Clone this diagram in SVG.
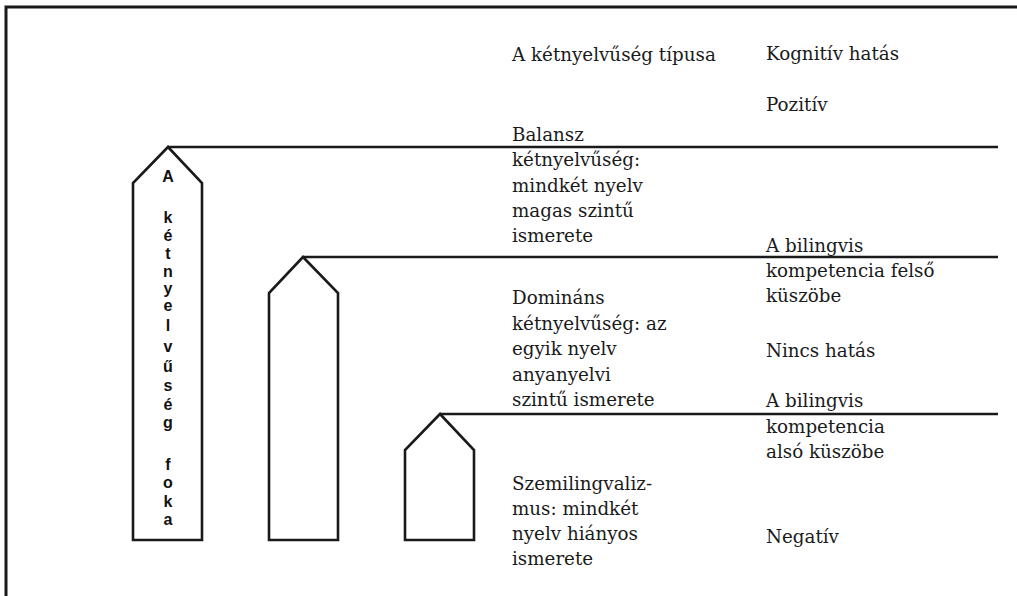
<svg xmlns="http://www.w3.org/2000/svg" width="1017" height="596" viewBox="0 0 1017 596">
<style>
.t{font-family:'DejaVu Serif','Liberation Serif',serif;font-size:18.3px;fill:#1a1a1a}
.v{font-family:'Liberation Sans',Arial,sans-serif;font-size:16px;font-weight:bold;fill:#111;text-anchor:middle}
.s{fill:#fff;stroke:#1a1a1a;stroke-width:2.6;stroke-linejoin:miter}
.l{stroke:#1a1a1a;stroke-width:2.4;fill:none}
</style>
<rect width="1017" height="596" fill="#fff"/>
<g id="frame"><path class="l" style="stroke-width:3" d="M6,596 V7 H1017"/></g>
<g id="pillar1">
<polygon class="s" points="168,147 202,183 202,540 133,540 133,183"/>
<text class="v" x="168" y="182">A</text>
<text class="v" x="168" y="223">k</text>
<text class="v" x="168" y="241">é</text>
<text class="v" x="168" y="259">t</text>
<text class="v" x="168" y="277">n</text>
<text class="v" x="168" y="294">y</text>
<text class="v" x="168" y="311">e</text>
<text class="v" x="168" y="331">l</text>
<text class="v" x="168" y="352">v</text>
<text class="v" x="168" y="372">ű</text>
<text class="v" x="168" y="391">s</text>
<text class="v" x="168" y="410">é</text>
<text class="v" x="168" y="428">g</text>
<text class="v" x="168" y="470">f</text>
<text class="v" x="168" y="488">o</text>
<text class="v" x="168" y="507">k</text>
<text class="v" x="168" y="525">a</text>
</g>
<g id="pillar2"><polygon class="s" points="303,257 338,293 338,540 269,540 269,293"/></g>
<g id="pillar3"><polygon class="s" points="440,414 474,450 474,540 405,540 405,450"/></g>
<g id="connectors">
<line class="l" x1="168" y1="147" x2="998" y2="147"/>
<line class="l" x1="303" y1="257" x2="998" y2="257"/>
<line class="l" x1="440" y1="414" x2="998" y2="414"/>
</g>
<g id="header-type"><text class="t" x="512" y="61">A kétnyelvűség típusa</text></g>
<g id="header-effect"><text class="t" x="766" y="60">Kognitív hatás</text></g>
<g id="effect-positive"><text class="t" x="766" y="111">Pozitív</text></g>
<g id="type-balanced"><text class="t" x="512" y="141">Balansz<tspan x="512" y="166">kétnyelvűség:</tspan><tspan x="512" y="192">mindkét nyelv</tspan><tspan x="512" y="217">magas szintű</tspan><tspan x="512" y="242">ismerete</tspan></text></g>
<g id="upper-threshold"><text class="t" x="766" y="252">A bilingvis<tspan x="766" y="277">kompetencia felső</tspan><tspan x="766" y="302">küszöbe</tspan></text></g>
<g id="type-dominant"><text class="t" x="512" y="304">Domináns<tspan x="512" y="330">kétnyelvűség: az</tspan><tspan x="512" y="355">egyik nyelv</tspan><tspan x="512" y="381">anyanyelvi</tspan><tspan x="512" y="406">szintű ismerete</tspan></text></g>
<g id="effect-none"><text class="t" x="766" y="357">Nincs hatás</text></g>
<g id="lower-threshold"><text class="t" x="766" y="407">A bilingvis<tspan x="766" y="433">kompetencia</tspan><tspan x="766" y="458">alsó küszöbe</tspan></text></g>
<g id="type-semi"><text class="t" x="512" y="490">Szemilingvaliz-<tspan x="512" y="515">mus: mindkét</tspan><tspan x="512" y="540">nyelv hiányos</tspan><tspan x="512" y="565">ismerete</tspan></text></g>
<g id="effect-negative"><text class="t" x="766" y="543">Negatív</text></g>
</svg>
